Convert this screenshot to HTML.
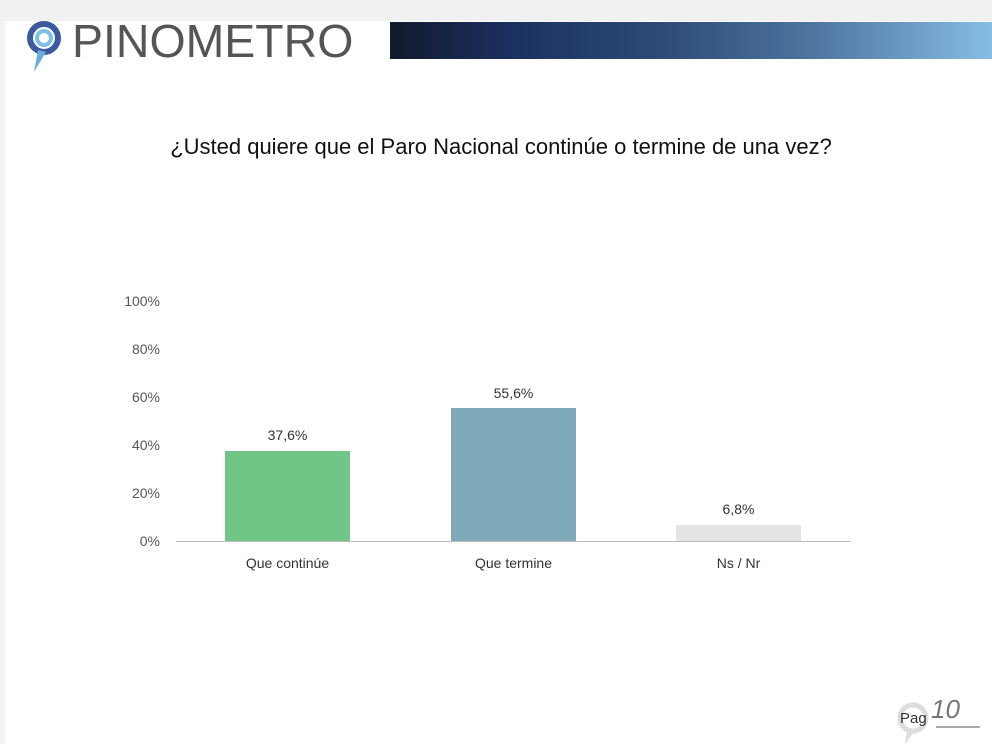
<!DOCTYPE html><html><head><style>
body{margin:0;width:992px;height:744px;background:#fff;position:relative;overflow:hidden;font-family:"Liberation Sans",sans-serif}
.a{position:absolute}
.t{font-size:14px;color:#555}
</style></head><body>
<div class="a" style="left:0;top:0;width:992px;height:21px;background:#f0f1f3"></div>
<div class="a" style="left:0;top:21px;width:5px;height:723px;background:#f3f3f3"></div>
<div class="a" style="left:390px;top:22px;width:602px;height:37px;background:linear-gradient(90deg,#121a2c 0%,#1b3060 20%,#2c4a78 45%,#4e74a0 70%,#85bde6 100%)"></div>
<svg class="a" style="left:24px;top:18px" width="50" height="58"><circle cx="20" cy="20" r="14" fill="none" stroke="#3d5aa0" stroke-width="6"/><circle cx="20" cy="20" r="7" fill="none" stroke="#7fc0e6" stroke-width="4"/><path d="M14 32 L10 54 L22 34Z" fill="#6aaedc"/></svg>
<div class="a" style="left:72px;top:14px;font-size:46px;color:#555;font-weight:300;transform:scaleX(1.01);transform-origin:left;line-height:54px">PINOMETRO</div>
<div class="a" style="left:0;width:992px;top:134px;text-align:center;font-size:22px;color:#111;padding-left:5px">¿Usted quiere que el Paro Nacional continúe o termine de una vez?</div>
<div class="a t" style="left:110px;top:293px;width:50px;text-align:right">100%</div>
<div class="a t" style="left:110px;top:341px;width:50px;text-align:right">80%</div>
<div class="a t" style="left:110px;top:389px;width:50px;text-align:right">60%</div>
<div class="a t" style="left:110px;top:437px;width:50px;text-align:right">40%</div>
<div class="a t" style="left:110px;top:485px;width:50px;text-align:right">20%</div>
<div class="a t" style="left:110px;top:533px;width:50px;text-align:right">0%</div>
<div class="a" style="left:225px;top:451px;width:125px;height:90px;background:#6fc687"></div>
<div class="a" style="left:451px;top:408px;width:125px;height:133px;background:#7ea9b9"></div>
<div class="a" style="left:676px;top:525px;width:125px;height:16px;background:#e4e4e4"></div>
<div class="a" style="left:176px;top:541px;width:675px;height:1px;background:#bbb"></div>
<div class="a t" style="left:225px;top:427px;width:125px;text-align:center;color:#333">37,6%</div>
<div class="a t" style="left:451px;top:385px;width:125px;text-align:center;color:#333">55,6%</div>
<div class="a t" style="left:676px;top:501px;width:125px;text-align:center;color:#333">6,8%</div>
<div class="a t" style="left:200px;top:555px;width:175px;text-align:center;color:#333">Que continúe</div>
<div class="a t" style="left:426px;top:555px;width:175px;text-align:center;color:#333">Que termine</div>
<div class="a t" style="left:651px;top:555px;width:175px;text-align:center;color:#333">Ns / Nr</div>
<svg class="a" style="left:895px;top:700px" width="40" height="44"><circle cx="18" cy="18" r="13" fill="none" stroke="#ddd" stroke-width="5"/><path d="M12 30 L10 44 L20 31Z" fill="#ddd"/></svg>
<div class="a" style="left:900px;top:710px;font-size:15px;color:#333">Pag</div>
<div class="a" style="left:931px;top:694px;font-size:26px;font-style:italic;color:#777">10</div>
<div class="a" style="left:936px;top:726px;width:44px;height:2px;background:#aaa"></div>
</body></html>
